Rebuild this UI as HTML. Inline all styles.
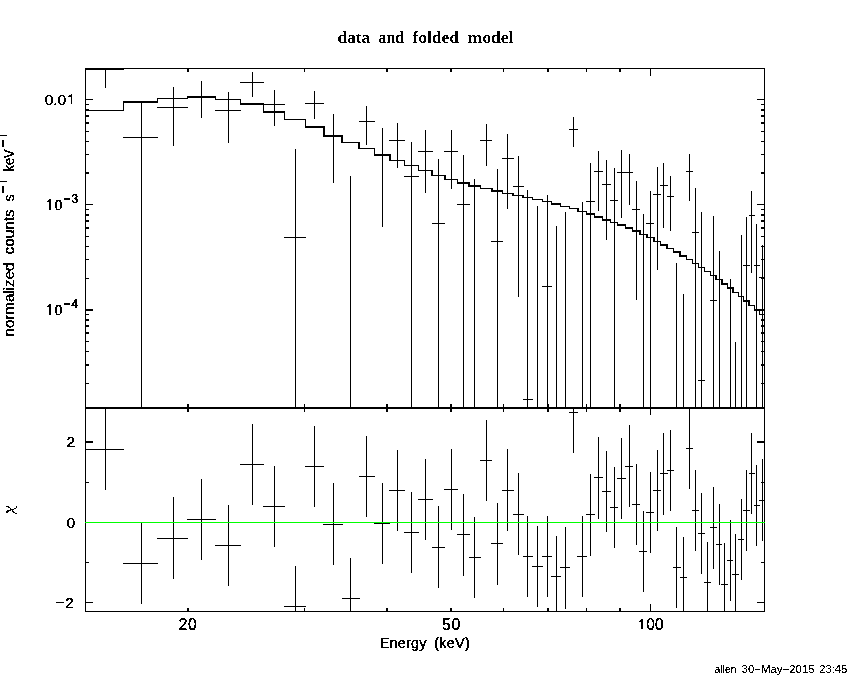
<!DOCTYPE html>
<html><head><meta charset="utf-8"><title>data and folded model</title>
<style>
html,body{margin:0;padding:0;background:#fff;}
body{width:850px;height:680px;overflow:hidden;font-family:"Liberation Sans",sans-serif;}
svg{position:absolute;left:0;top:0;display:block}
text{font-family:"Liberation Sans",sans-serif;fill:#000}
.t{font-family:"Liberation Serif",serif;font-weight:bold}
</style></head><body>
<svg width="850" height="680" viewBox="0 0 850 680">
<rect x="0" y="0" width="850" height="680" fill="#fff"/>
<g shape-rendering="crispEdges" fill="#000"><rect x="85" y="68" width="680" height="1"/><rect x="85" y="611" width="680" height="1"/><rect x="85" y="68" width="1" height="544"/><rect x="764" y="68" width="1" height="544"/><rect x="85" y="407" width="680" height="2"/><rect x="187" y="68" width="2" height="4"/><rect x="187" y="608" width="2" height="4"/><rect x="187" y="404" width="2" height="8"/><rect x="304" y="68" width="1" height="4"/><rect x="304" y="608" width="1" height="4"/><rect x="304" y="404" width="1" height="8"/><rect x="386" y="68" width="2" height="4"/><rect x="386" y="608" width="2" height="4"/><rect x="386" y="404" width="2" height="8"/><rect x="450" y="68" width="2" height="4"/><rect x="450" y="608" width="2" height="4"/><rect x="450" y="404" width="2" height="8"/><rect x="503" y="68" width="1" height="4"/><rect x="503" y="608" width="1" height="4"/><rect x="503" y="404" width="1" height="8"/><rect x="547" y="68" width="2" height="4"/><rect x="547" y="608" width="2" height="4"/><rect x="547" y="404" width="2" height="8"/><rect x="586" y="68" width="1" height="4"/><rect x="586" y="608" width="1" height="4"/><rect x="586" y="404" width="1" height="8"/><rect x="619" y="68" width="2" height="4"/><rect x="619" y="608" width="2" height="4"/><rect x="619" y="404" width="2" height="8"/><rect x="650" y="68" width="1" height="8"/><rect x="650" y="604" width="1" height="8"/><rect x="650" y="400" width="1" height="15"/><rect x="85" y="99" width="8" height="1"/><rect x="757" y="99" width="8" height="1"/><rect x="85" y="104" width="4" height="1"/><rect x="761" y="104" width="4" height="1"/><rect x="85" y="109" width="4" height="2"/><rect x="761" y="109" width="4" height="2"/><rect x="85" y="115" width="4" height="2"/><rect x="761" y="115" width="4" height="2"/><rect x="85" y="122" width="4" height="2"/><rect x="761" y="122" width="4" height="2"/><rect x="85" y="131" width="4" height="1"/><rect x="761" y="131" width="4" height="1"/><rect x="85" y="141" width="4" height="1"/><rect x="761" y="141" width="4" height="1"/><rect x="85" y="154" width="4" height="1"/><rect x="761" y="154" width="4" height="1"/><rect x="85" y="172" width="4" height="2"/><rect x="761" y="172" width="4" height="2"/><rect x="85" y="204" width="8" height="1"/><rect x="757" y="204" width="8" height="1"/><rect x="85" y="209" width="4" height="1"/><rect x="761" y="209" width="4" height="1"/><rect x="85" y="214" width="4" height="2"/><rect x="761" y="214" width="4" height="2"/><rect x="85" y="220" width="4" height="2"/><rect x="761" y="220" width="4" height="2"/><rect x="85" y="227" width="4" height="2"/><rect x="761" y="227" width="4" height="2"/><rect x="85" y="236" width="4" height="1"/><rect x="761" y="236" width="4" height="1"/><rect x="85" y="246" width="4" height="1"/><rect x="761" y="246" width="4" height="1"/><rect x="85" y="259" width="4" height="1"/><rect x="761" y="259" width="4" height="1"/><rect x="85" y="278" width="4" height="1"/><rect x="761" y="278" width="4" height="1"/><rect x="85" y="309" width="8" height="2"/><rect x="757" y="309" width="8" height="2"/><rect x="85" y="314" width="4" height="1"/><rect x="761" y="314" width="4" height="1"/><rect x="85" y="319" width="4" height="2"/><rect x="761" y="319" width="4" height="2"/><rect x="85" y="325" width="4" height="2"/><rect x="761" y="325" width="4" height="2"/><rect x="85" y="332" width="4" height="2"/><rect x="761" y="332" width="4" height="2"/><rect x="85" y="341" width="4" height="1"/><rect x="761" y="341" width="4" height="1"/><rect x="85" y="351" width="4" height="1"/><rect x="761" y="351" width="4" height="1"/><rect x="85" y="364" width="4" height="2"/><rect x="761" y="364" width="4" height="2"/><rect x="85" y="383" width="4" height="1"/><rect x="761" y="383" width="4" height="1"/><rect x="85" y="441" width="8" height="2"/><rect x="757" y="441" width="8" height="2"/><rect x="85" y="482" width="4" height="1"/><rect x="761" y="482" width="4" height="1"/><rect x="85" y="562" width="4" height="1"/><rect x="761" y="562" width="4" height="1"/><rect x="85" y="602" width="8" height="1"/><rect x="757" y="602" width="8" height="1"/><rect x="85" y="110" width="39" height="1"/><rect x="123" y="101" width="35" height="2"/><rect x="123" y="101" width="1" height="10"/><rect x="157" y="98" width="31" height="1"/><rect x="157" y="98" width="1" height="5"/><rect x="187" y="96" width="29" height="2"/><rect x="187" y="96" width="1" height="3"/><rect x="215" y="99" width="26" height="1"/><rect x="215" y="96" width="1" height="4"/><rect x="240" y="103" width="24" height="2"/><rect x="240" y="99" width="1" height="6"/><rect x="263" y="111" width="22" height="2"/><rect x="263" y="103" width="1" height="10"/><rect x="284" y="119" width="22" height="1"/><rect x="284" y="111" width="1" height="9"/><rect x="305" y="126" width="19" height="2"/><rect x="305" y="119" width="1" height="9"/><rect x="323" y="135" width="20" height="2"/><rect x="323" y="126" width="2" height="11"/><rect x="342" y="142" width="18" height="1"/><rect x="341" y="135" width="2" height="8"/><rect x="359" y="148" width="16" height="1"/><rect x="358" y="142" width="2" height="7"/><rect x="374" y="154" width="16" height="2"/><rect x="374" y="148" width="1" height="8"/><rect x="389" y="160" width="16" height="1"/><rect x="389" y="154" width="2" height="7"/><rect x="404" y="165" width="15" height="1"/><rect x="404" y="160" width="1" height="6"/><rect x="418" y="170" width="15" height="1"/><rect x="418" y="165" width="1" height="6"/><rect x="432" y="175" width="13" height="1"/><rect x="431" y="170" width="2" height="6"/><rect x="444" y="179" width="14" height="1"/><rect x="444" y="175" width="2" height="5"/><rect x="457" y="182" width="13" height="2"/><rect x="457" y="179" width="1" height="5"/><rect x="469" y="185" width="12" height="2"/><rect x="468" y="182" width="2" height="5"/><rect x="480" y="188" width="12" height="1"/><rect x="480" y="185" width="1" height="4"/><rect x="491" y="190" width="12" height="2"/><rect x="491" y="188" width="2" height="4"/><rect x="502" y="193" width="12" height="1"/><rect x="502" y="190" width="1" height="4"/><rect x="513" y="195" width="11" height="1"/><rect x="512" y="193" width="2" height="3"/><rect x="523" y="197" width="10" height="1"/><rect x="522" y="195" width="2" height="3"/><rect x="532" y="199" width="11" height="1"/><rect x="532" y="197" width="1" height="3"/><rect x="542" y="201" width="10" height="1"/><rect x="542" y="199" width="1" height="3"/><rect x="551" y="203" width="10" height="2"/><rect x="551" y="201" width="1" height="4"/><rect x="560" y="206" width="10" height="1"/><rect x="560" y="203" width="1" height="4"/><rect x="569" y="208" width="9" height="1"/><rect x="569" y="206" width="1" height="3"/><rect x="577" y="211" width="10" height="1"/><rect x="577" y="208" width="2" height="4"/><rect x="586" y="213" width="9" height="2"/><rect x="586" y="211" width="1" height="4"/><rect x="594" y="216" width="9" height="2"/><rect x="594" y="213" width="1" height="5"/><rect x="602" y="219" width="9" height="2"/><rect x="602" y="216" width="1" height="5"/><rect x="610" y="222" width="8" height="1"/><rect x="610" y="219" width="1" height="4"/><rect x="617" y="224" width="9" height="2"/><rect x="617" y="222" width="1" height="4"/><rect x="625" y="227" width="8" height="2"/><rect x="625" y="224" width="1" height="5"/><rect x="632" y="230" width="8" height="2"/><rect x="632" y="227" width="1" height="5"/><rect x="639" y="234" width="8" height="1"/><rect x="639" y="230" width="2" height="5"/><rect x="646" y="237" width="8" height="1"/><rect x="646" y="234" width="2" height="4"/><rect x="653" y="241" width="8" height="1"/><rect x="653" y="237" width="2" height="5"/><rect x="660" y="244" width="8" height="2"/><rect x="660" y="241" width="1" height="5"/><rect x="667" y="248" width="7" height="1"/><rect x="666" y="244" width="2" height="5"/><rect x="673" y="251" width="8" height="2"/><rect x="673" y="248" width="1" height="5"/><rect x="680" y="255" width="7" height="2"/><rect x="679" y="251" width="2" height="6"/><rect x="686" y="259" width="7" height="1"/><rect x="686" y="255" width="1" height="5"/><rect x="692" y="263" width="7" height="1"/><rect x="692" y="259" width="1" height="5"/><rect x="698" y="267" width="7" height="1"/><rect x="698" y="263" width="1" height="5"/><rect x="704" y="271" width="7" height="1"/><rect x="704" y="267" width="1" height="5"/><rect x="710" y="275" width="7" height="1"/><rect x="710" y="271" width="1" height="5"/><rect x="716" y="279" width="6" height="1"/><rect x="715" y="275" width="2" height="5"/><rect x="721" y="283" width="7" height="2"/><rect x="721" y="279" width="2" height="6"/><rect x="727" y="287" width="6" height="2"/><rect x="727" y="283" width="1" height="6"/><rect x="732" y="292" width="7" height="1"/><rect x="732" y="287" width="2" height="6"/><rect x="738" y="296" width="6" height="1"/><rect x="738" y="292" width="1" height="5"/><rect x="743" y="300" width="7" height="2"/><rect x="743" y="296" width="1" height="6"/><rect x="749" y="305" width="6" height="1"/><rect x="748" y="300" width="2" height="6"/><rect x="754" y="309" width="6" height="2"/><rect x="754" y="305" width="1" height="6"/><rect x="759" y="314" width="6" height="1"/><rect x="759" y="309" width="1" height="6"/><rect x="105" y="68" width="1" height="20"/><rect x="85" y="69" width="39" height="1"/><rect x="141" y="102" width="1" height="307"/><rect x="123" y="137" width="35" height="1"/><rect x="173" y="87" width="1" height="59"/><rect x="157" y="107" width="31" height="1"/><rect x="201" y="81" width="1" height="37"/><rect x="228" y="92" width="1" height="51"/><rect x="215" y="110" width="26" height="1"/><rect x="252" y="72" width="1" height="25"/><rect x="240" y="82" width="24" height="1"/><rect x="274" y="90" width="1" height="36"/><rect x="263" y="104" width="22" height="1"/><rect x="295" y="149" width="1" height="260"/><rect x="284" y="237" width="22" height="1"/><rect x="314" y="91" width="1" height="28"/><rect x="305" y="103" width="19" height="1"/><rect x="333" y="114" width="1" height="69"/><rect x="350" y="176" width="1" height="233"/><rect x="366" y="106" width="1" height="39"/><rect x="359" y="121" width="16" height="1"/><rect x="382" y="128" width="1" height="99"/><rect x="397" y="123" width="1" height="45"/><rect x="389" y="140" width="16" height="1"/><rect x="411" y="142" width="1" height="267"/><rect x="404" y="176" width="15" height="1"/><rect x="425" y="130" width="1" height="63"/><rect x="418" y="151" width="15" height="1"/><rect x="438" y="159" width="1" height="250"/><rect x="432" y="223" width="13" height="1"/><rect x="451" y="130" width="1" height="59"/><rect x="444" y="151" width="14" height="1"/><rect x="463" y="155" width="1" height="254"/><rect x="457" y="204" width="13" height="1"/><rect x="474" y="179" width="1" height="230"/><rect x="486" y="124" width="1" height="42"/><rect x="480" y="140" width="12" height="1"/><rect x="497" y="169" width="1" height="240"/><rect x="491" y="241" width="12" height="1"/><rect x="507" y="134" width="1" height="75"/><rect x="502" y="158" width="12" height="1"/><rect x="518" y="156" width="1" height="141"/><rect x="513" y="186" width="11" height="1"/><rect x="527" y="190" width="1" height="219"/><rect x="523" y="399" width="10" height="1"/><rect x="537" y="206" width="1" height="203"/><rect x="547" y="195" width="1" height="214"/><rect x="542" y="286" width="10" height="1"/><rect x="556" y="226" width="1" height="183"/><rect x="565" y="212" width="1" height="197"/><rect x="573" y="117" width="1" height="30"/><rect x="569" y="129" width="9" height="1"/><rect x="582" y="202" width="1" height="207"/><rect x="590" y="163" width="1" height="246"/><rect x="586" y="201" width="9" height="1"/><rect x="598" y="151" width="1" height="60"/><rect x="594" y="171" width="9" height="1"/><rect x="606" y="160" width="1" height="80"/><rect x="602" y="184" width="9" height="1"/><rect x="614" y="168" width="1" height="241"/><rect x="610" y="200" width="8" height="1"/><rect x="621" y="150" width="1" height="68"/><rect x="617" y="172" width="9" height="1"/><rect x="629" y="154" width="1" height="51"/><rect x="625" y="172" width="8" height="1"/><rect x="636" y="181" width="1" height="119"/><rect x="632" y="209" width="8" height="1"/><rect x="643" y="214" width="1" height="195"/><rect x="650" y="191" width="1" height="218"/><rect x="646" y="223" width="8" height="1"/><rect x="657" y="167" width="1" height="103"/><rect x="653" y="194" width="8" height="1"/><rect x="663" y="163" width="1" height="65"/><rect x="660" y="185" width="8" height="1"/><rect x="670" y="176" width="1" height="55"/><rect x="667" y="196" width="7" height="1"/><rect x="676" y="263" width="1" height="146"/><rect x="683" y="294" width="1" height="115"/><rect x="689" y="154" width="1" height="47"/><rect x="686" y="171" width="7" height="1"/><rect x="695" y="188" width="1" height="221"/><rect x="692" y="232" width="7" height="1"/><rect x="701" y="212" width="1" height="197"/><rect x="698" y="380" width="7" height="1"/><rect x="713" y="216" width="1" height="193"/><rect x="710" y="300" width="7" height="1"/><rect x="719" y="251" width="1" height="158"/><rect x="730" y="279" width="1" height="130"/><rect x="735" y="342" width="1" height="67"/><rect x="741" y="235" width="1" height="174"/><rect x="746" y="217" width="1" height="192"/><rect x="743" y="265" width="7" height="1"/><rect x="751" y="191" width="1" height="82"/><rect x="749" y="215" width="6" height="1"/><rect x="756" y="224" width="1" height="185"/><rect x="754" y="265" width="6" height="1"/><rect x="762" y="245" width="1" height="164"/><rect x="759" y="277" width="6" height="1"/><rect x="105" y="408" width="1" height="82"/><rect x="85" y="449" width="39" height="1"/><rect x="141" y="522" width="1" height="82"/><rect x="123" y="563" width="35" height="1"/><rect x="173" y="497" width="1" height="82"/><rect x="157" y="538" width="31" height="1"/><rect x="201" y="479" width="1" height="81"/><rect x="187" y="519" width="29" height="1"/><rect x="228" y="505" width="1" height="81"/><rect x="215" y="545" width="26" height="1"/><rect x="252" y="424" width="1" height="81"/><rect x="240" y="464" width="24" height="1"/><rect x="274" y="466" width="1" height="81"/><rect x="263" y="506" width="22" height="1"/><rect x="295" y="566" width="1" height="46"/><rect x="284" y="606" width="22" height="1"/><rect x="314" y="426" width="1" height="81"/><rect x="305" y="466" width="19" height="1"/><rect x="333" y="483" width="1" height="82"/><rect x="323" y="524" width="20" height="1"/><rect x="350" y="558" width="1" height="54"/><rect x="342" y="598" width="18" height="1"/><rect x="366" y="436" width="1" height="81"/><rect x="359" y="476" width="16" height="1"/><rect x="382" y="483" width="1" height="81"/><rect x="374" y="523" width="16" height="1"/><rect x="397" y="450" width="1" height="81"/><rect x="389" y="490" width="16" height="1"/><rect x="411" y="492" width="1" height="81"/><rect x="404" y="532" width="15" height="1"/><rect x="425" y="459" width="1" height="81"/><rect x="418" y="499" width="15" height="1"/><rect x="438" y="506" width="1" height="82"/><rect x="432" y="547" width="13" height="1"/><rect x="451" y="449" width="1" height="81"/><rect x="444" y="489" width="14" height="1"/><rect x="463" y="494" width="1" height="82"/><rect x="457" y="534" width="13" height="1"/><rect x="474" y="517" width="1" height="81"/><rect x="469" y="557" width="12" height="1"/><rect x="486" y="420" width="1" height="81"/><rect x="480" y="460" width="12" height="1"/><rect x="497" y="503" width="1" height="82"/><rect x="491" y="543" width="12" height="1"/><rect x="507" y="449" width="1" height="82"/><rect x="502" y="490" width="12" height="1"/><rect x="518" y="473" width="1" height="82"/><rect x="513" y="514" width="11" height="1"/><rect x="527" y="516" width="1" height="81"/><rect x="523" y="556" width="10" height="1"/><rect x="537" y="526" width="1" height="81"/><rect x="532" y="566" width="11" height="1"/><rect x="547" y="516" width="1" height="81"/><rect x="542" y="556" width="10" height="1"/><rect x="556" y="536" width="1" height="76"/><rect x="551" y="576" width="10" height="1"/><rect x="565" y="527" width="1" height="82"/><rect x="560" y="567" width="10" height="1"/><rect x="573" y="408" width="1" height="45"/><rect x="569" y="412" width="9" height="1"/><rect x="582" y="516" width="1" height="81"/><rect x="577" y="556" width="10" height="1"/><rect x="590" y="474" width="1" height="82"/><rect x="586" y="514" width="9" height="1"/><rect x="598" y="437" width="1" height="82"/><rect x="594" y="477" width="9" height="1"/><rect x="606" y="451" width="1" height="81"/><rect x="602" y="491" width="9" height="1"/><rect x="614" y="467" width="1" height="81"/><rect x="610" y="507" width="8" height="1"/><rect x="621" y="438" width="1" height="81"/><rect x="617" y="478" width="9" height="1"/><rect x="629" y="425" width="1" height="82"/><rect x="625" y="466" width="8" height="1"/><rect x="636" y="464" width="1" height="81"/><rect x="632" y="504" width="8" height="1"/><rect x="643" y="511" width="1" height="81"/><rect x="639" y="551" width="8" height="1"/><rect x="650" y="472" width="1" height="81"/><rect x="646" y="512" width="8" height="1"/><rect x="657" y="450" width="1" height="81"/><rect x="653" y="490" width="8" height="1"/><rect x="663" y="433" width="1" height="82"/><rect x="660" y="473" width="8" height="1"/><rect x="670" y="430" width="1" height="81"/><rect x="667" y="470" width="7" height="1"/><rect x="676" y="527" width="1" height="81"/><rect x="673" y="567" width="8" height="1"/><rect x="683" y="537" width="1" height="75"/><rect x="680" y="577" width="7" height="1"/><rect x="689" y="408" width="1" height="81"/><rect x="686" y="448" width="7" height="1"/><rect x="695" y="470" width="1" height="81"/><rect x="692" y="510" width="7" height="1"/><rect x="701" y="493" width="1" height="81"/><rect x="698" y="533" width="7" height="1"/><rect x="707" y="542" width="1" height="70"/><rect x="704" y="582" width="7" height="1"/><rect x="713" y="487" width="1" height="82"/><rect x="710" y="527" width="7" height="1"/><rect x="719" y="504" width="1" height="81"/><rect x="716" y="544" width="6" height="1"/><rect x="724" y="543" width="1" height="69"/><rect x="721" y="584" width="7" height="1"/><rect x="730" y="520" width="1" height="81"/><rect x="727" y="560" width="6" height="1"/><rect x="735" y="534" width="1" height="78"/><rect x="732" y="574" width="7" height="1"/><rect x="741" y="499" width="1" height="81"/><rect x="738" y="539" width="6" height="1"/><rect x="746" y="470" width="1" height="81"/><rect x="743" y="510" width="7" height="1"/><rect x="751" y="433" width="1" height="81"/><rect x="749" y="473" width="6" height="1"/><rect x="756" y="465" width="1" height="81"/><rect x="754" y="505" width="6" height="1"/><rect x="762" y="459" width="1" height="82"/><rect x="759" y="500" width="6" height="1"/><rect x="85" y="522" width="680" height="1" fill="#00ff00"/><rect x="6" y="506" width="3" height="1"/><rect x="8" y="507" width="2" height="1"/><rect x="10" y="508" width="1" height="2"/><rect x="10" y="509" width="4" height="1"/><rect x="7" y="510" width="4" height="1"/><rect x="6" y="511" width="3" height="1"/><rect x="6" y="512" width="2" height="1"/><rect x="14" y="508" width="2" height="1"/><rect x="16" y="506" width="1" height="2"/><rect x="12" y="510" width="1" height="2"/><rect x="13" y="511" width="1" height="1"/><rect x="13" y="512" width="2" height="1"/><rect x="15" y="513" width="2" height="1"/><rect x="71" y="94" width="1" height="10"/><rect x="69" y="95" width="2" height="1"/><rect x="68" y="96" width="3" height="1"/><rect x="49" y="199" width="2" height="11"/><rect x="48" y="200" width="1" height="2"/><rect x="47" y="201" width="1" height="1"/><rect x="49" y="304" width="2" height="11"/><rect x="48" y="305" width="1" height="2"/><rect x="47" y="306" width="1" height="1"/><rect x="641" y="619" width="2" height="10"/><rect x="640" y="620" width="1" height="2"/><rect x="639" y="621" width="1" height="1"/><rect x="0" y="135" width="7" height="1"/><rect x="2" y="140" width="2" height="7"/><rect x="0" y="181" width="7" height="1"/><rect x="2" y="186" width="2" height="7"/></g>
<defs><filter id="bw" x="0" y="0" width="850" height="680" filterUnits="userSpaceOnUse" color-interpolation-filters="sRGB"><feComponentTransfer><feFuncA type="discrete" tableValues="0 1"/></feComponentTransfer></filter></defs>
<g filter="url(#bw)">
<g font-size="16" style="font-family:'Liberation Serif',serif" font-weight="bold"><text style="font-family:'Liberation Serif',serif" x="337.6" y="43" textLength="32.6" lengthAdjust="spacingAndGlyphs">data</text><text style="font-family:'Liberation Serif',serif" x="378.6" y="43" textLength="25.4" lengthAdjust="spacingAndGlyphs">and</text><text style="font-family:'Liberation Serif',serif" x="412.6" y="43" textLength="46.2" lengthAdjust="spacingAndGlyphs">folded</text><text style="font-family:'Liberation Serif',serif" x="467.4" y="43" textLength="46.2" lengthAdjust="spacingAndGlyphs">model</text></g>
<g font-size="15.5" stroke="#000" stroke-width="0.35">
<text x="44.7" y="104.6">0.0</text>
<text x="54.6" y="209.7" textLength="8" lengthAdjust="spacingAndGlyphs">0</text><text x="63.2" y="203" font-size="12" letter-spacing="1.2">−3</text>
<text x="54.6" y="315" textLength="8" lengthAdjust="spacingAndGlyphs">0</text><text x="63.2" y="308.3" font-size="12" letter-spacing="1.2">−4</text>
<text x="75.1" y="447.2" text-anchor="end">2</text>
<text x="75.1" y="527.6" text-anchor="end">0</text>
<text x="75" y="608.2" text-anchor="end" letter-spacing="1">−2</text>
<text x="188.1" y="630" font-size="16" text-anchor="middle" letter-spacing="0.6">20</text>
<text x="451.4" y="630" font-size="16" text-anchor="middle" letter-spacing="0.6">50</text>
<text x="646.3" y="630" font-size="16" textLength="17.2" lengthAdjust="spacingAndGlyphs">00</text>
</g>
<g font-size="14.5" stroke="#000" stroke-width="0.35"><text x="379.7" y="648" textLength="46.7" lengthAdjust="spacing">Energy</text><text x="434.2" y="648" textLength="35.6" lengthAdjust="spacing">(keV)</text></g>
<g transform="translate(14,336) rotate(-90)" font-size="14.5" stroke="#000" stroke-width="0.35">
<text x="-0.5" y="0" textLength="74" lengthAdjust="spacingAndGlyphs">normalized</text>
<text x="81.5" y="0" textLength="45.3" lengthAdjust="spacingAndGlyphs">counts</text>
<text x="134.4" y="0">s</text>
<text x="164.6" y="0" textLength="22" lengthAdjust="spacingAndGlyphs">keV</text>
</g>
<g font-size="11" stroke="#000" stroke-width="0.15">
<text x="714.5" y="673.2" textLength="22" lengthAdjust="spacingAndGlyphs">allen</text>
<text x="741.6" y="673.2" textLength="73" lengthAdjust="spacingAndGlyphs">30−May−2015</text>
<text x="819.2" y="673.2" textLength="28" lengthAdjust="spacingAndGlyphs">23:45</text>
</g>

</g>
</svg>
</body></html>
